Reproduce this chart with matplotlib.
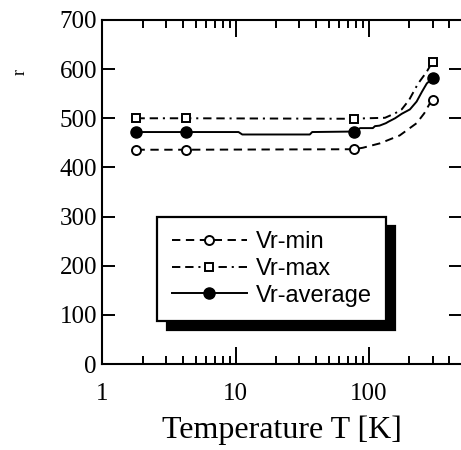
import matplotlib
matplotlib.use('Agg')
import matplotlib.pyplot as plt
from matplotlib.ticker import FixedLocator, FixedFormatter, NullFormatter

plt.rcParams['lines.scale_dashes'] = False

# ---- marker data ----
T_pts = [1.8, 4.2, 77, 300]
vr_min = [436, 436, 437, 537]
vr_max = [500, 500, 499, 615]
vr_avg = [472, 472, 473, 581]

# ---- curve paths ----
T_min_line = [1.8, 4.2, 77, 90, 121, 170, 228, 260, 286, 300]
V_min_line = [436, 436, 437, 440, 449, 465, 490, 510, 530, 537]
T_max_line = [1.8, 4.2, 77, 96, 132, 157, 176, 200, 233, 272, 300]
V_max_line = [500, 500, 499, 500, 501, 510, 518, 537, 570, 595, 615]
T_avg_line = [1.8, 4.2, 10.5, 11.2, 36, 37.5, 77, 86, 107, 111, 120, 134,
              140, 157, 176, 203, 228, 250, 272, 300]
V_avg_line = [472, 472, 472, 467, 467, 472, 473, 480, 480, 484, 485, 490,
              493, 500, 509, 518, 534, 554, 571, 581]

labels = ['Vr-min', 'Vr-max', 'Vr-average']
x_major = [1, 10, 100]
x_major_labels = ['1', '10', '100']
x_minor = [2, 3, 4, 5, 6, 7, 8, 9, 20, 30, 40, 50, 60, 70, 80, 90, 200, 300, 400]
y_ticks = [0, 100, 200, 300, 400, 500, 600, 700]

fig = plt.figure(figsize=(4.61, 4.5), dpi=100)
ax = fig.add_axes([0.2223, 0.1911, 0.7800, 0.7645])

lw = 1.4
dash_min = (0, (6, 4))
dash_max = (0, (6, 3.5, 6, 3.5, 1.5, 3.5))

l_min, = ax.plot(T_min_line, V_min_line, color='black', lw=lw, linestyle=dash_min)
l_max, = ax.plot(T_max_line, V_max_line, color='black', lw=lw, linestyle=dash_max)
l_avg, = ax.plot(T_avg_line, V_avg_line, color='black', lw=lw, linestyle='-')

m_min, = ax.plot(T_pts, vr_min, linestyle='none', marker='o', ms=6.5,
                 mfc='white', mec='black', mew=1.4)
m_max, = ax.plot(T_pts, vr_max, linestyle='none', marker='s', ms=6,
                 mfc='white', mec='black', mew=1.4)
m_avg, = ax.plot(T_pts, vr_avg, linestyle='none', marker='o', ms=8,
                 mfc='black', mec='black', mew=1.0)

ax.set_xscale('log')
ax.set_xlim(1, 500)
ax.set_ylim(0, 700)

ax.xaxis.set_major_locator(FixedLocator(x_major))
ax.xaxis.set_major_formatter(FixedFormatter(x_major_labels))
ax.xaxis.set_minor_locator(FixedLocator(x_minor))
ax.xaxis.set_minor_formatter(NullFormatter())
ax.yaxis.set_major_locator(FixedLocator(y_ticks))
ax.yaxis.set_minor_locator(FixedLocator([]))

ax.tick_params(axis='both', which='both', direction='in', top=True, right=True,
               width=1.4, colors='black')
ax.tick_params(axis='x', which='major', length=12, pad=14)
ax.tick_params(axis='x', which='minor', length=6)
ax.tick_params(axis='y', which='major', length=9.5, pad=4)

for lab in ax.get_xticklabels() + ax.get_yticklabels():
    lab.set_fontfamily('Liberation Serif')
    lab.set_fontsize(18)

for s in ax.spines.values():
    s.set_linewidth(1.5)

ax.set_xlabel('Temperature T [K]', fontfamily='Liberation Serif', fontsize=23,
              labelpad=7)
fig.text(0.043, 0.84, 'r', rotation=90, fontfamily='Liberation Serif',
         fontsize=13, ha='center', va='center')

leg = ax.legend([(l_min, m_min), (l_max, m_max), (l_avg, m_avg)], labels,
                loc='upper left', bbox_to_anchor=(0.153, 0.427),
                borderaxespad=0, frameon=True, fancybox=False,
                framealpha=1, edgecolor='black', numpoints=1,
                handlelength=3.2, handletextpad=0.35, borderpad=0.6,
                labelspacing=0.2,
                prop={'family': 'Liberation Sans', 'size': 17},
                shadow={'ox': 6.5, 'oy': -6.5, 'facecolor': 'black',
                        'edgecolor': 'black', 'alpha': 1})
leg.get_frame().set_linewidth(1.6)

fig.savefig('out.png', dpi=100, facecolor='white')
